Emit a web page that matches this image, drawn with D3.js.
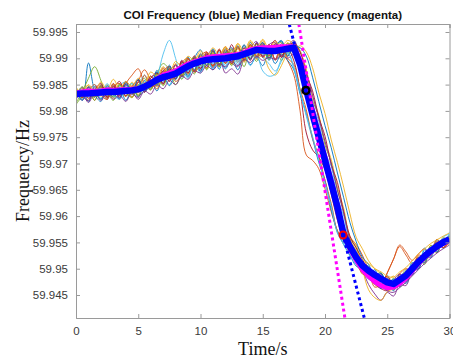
<!DOCTYPE html>
<html>
<head>
<meta charset="utf-8">
<script src="https://cdn.jsdelivr.net/npm/d3@7"></script>
<style>
  body { margin: 0; background: #fff; }
  svg { display: block; }
</style>
</head>
<body>
<div id="chart"></div>
<script>
// time grid (s), every 0.5 s
var timeS = [0,0.5,1,1.5,2,2.5,3,3.5,4,4.5,5,5.5,6,6.5,7,7.5,8,8.5,9,9.5,10,10.5,11,11.5,12,12.5,13,13.5,14,14.5,15,15.5,16,16.5,17,17.5,18,18.5,19,19.5,20,20.5,21,21.5,22,22.5,23,23.5,24,24.5,25,25.5,26,26.5,27,27.5,28,28.5,29,29.5,30];

// COI frequency (blue)
var coiFreq = [59.9832,59.9833,59.9833,59.9834,59.9835,59.9836,59.9836,59.9837,59.9838,59.9839,59.9841,59.9846,59.9852,59.9859,59.9864,59.9867,59.9871,59.9878,59.9885,59.9890,59.9894,59.9897,59.9898,59.9899,59.9900,59.9902,59.9904,59.9908,59.9912,59.9916,59.9915,59.9914,59.9914,59.9916,59.9918,59.9920,59.9888,59.9839,59.9793,59.9750,59.9706,59.9662,59.9617,59.9565,59.9542,59.9522,59.9506,59.9496,59.9488,59.9481,59.9474,59.9471,59.9479,59.9487,59.9500,59.9513,59.9524,59.9534,59.9543,59.9550,59.9556];

// median frequency (magenta)
var medianFreq = [59.9834,59.9836,59.9838,59.9837,59.9838,59.9840,59.9839,59.9840,59.9840,59.9841,59.9842,59.9846,59.9853,59.9861,59.9868,59.9872,59.9876,59.9883,59.9889,59.9893,59.9897,59.9901,59.9903,59.9904,59.9905,59.9906,59.9907,59.9911,59.9916,59.9919,59.9920,59.9920,59.9921,59.9922,59.9922,59.9922,59.9896,59.9846,59.9800,59.9755,59.9712,59.9667,59.9620,59.9566,59.9538,59.9517,59.9499,59.9486,59.9476,59.9468,59.9464,59.9465,59.9472,59.9482,59.9496,59.9510,59.9522,59.9532,59.9541,59.9548,59.9554];

// individual bus frequencies (thin lines)
var bus01 = [59.9834,59.9825,59.9891,59.9839,59.9823,59.9846,59.9830,59.9851,59.9828,59.9847,59.9826,59.9858,59.9844,59.9877,59.9859,59.9887,59.9859,59.9893,59.9867,59.9900,59.9916,59.9887,59.9914,59.9879,59.9912,59.9894,59.9924,59.9894,59.9930,59.9910,59.9929,59.9896,59.9924,59.9932,59.9910,59.9932,59.9890,59.9845,59.9788,59.9758,59.9700,59.9668,59.9610,59.9572,59.9548,59.9515,59.9512,59.9488,59.9498,59.9470,59.9482,59.9462,59.9490,59.9475,59.9512,59.9500,59.9536,59.9522,59.9555,59.9540,59.9565];
var bus02 = [59.9840,59.9826,59.9845,59.9828,59.9850,59.9830,59.9846,59.9826,59.9852,59.9868,59.9880,59.9852,59.9840,59.9872,59.9850,59.9880,59.9862,59.9896,59.9872,59.9905,59.9880,59.9910,59.9885,59.9915,59.9890,59.9918,59.9892,59.9925,59.9900,59.9928,59.9902,59.9925,59.9896,59.9915,59.9895,59.9868,59.9800,59.9716,59.9706,59.9690,59.9652,59.9608,59.9572,59.9550,59.9556,59.9546,59.9526,59.9498,59.9474,59.9470,59.9492,59.9518,59.9542,59.9526,59.9510,59.9522,59.9515,59.9532,59.9550,59.9540,59.9552];
var bus03 = [59.9826,59.9842,59.9820,59.9846,59.9828,59.9850,59.9824,59.9852,59.9840,59.9825,59.9855,59.9836,59.9866,59.9848,59.9880,59.9856,59.9890,59.9866,59.9900,59.9878,59.9910,59.9888,59.9916,59.9886,59.9920,59.9894,59.9928,59.9898,59.9932,59.9906,59.9934,59.9908,59.9928,59.9904,59.9930,59.9916,59.9924,59.9912,59.9882,59.9835,59.9795,59.9745,59.9702,59.9655,59.9605,59.9560,59.9538,59.9515,59.9500,59.9490,59.9478,59.9486,59.9470,59.9488,59.9495,59.9520,59.9512,59.9545,59.9530,59.9560,59.9548];
var bus04 = [59.9838,59.9820,59.9842,59.9826,59.9848,59.9828,59.9852,59.9822,59.9850,59.9830,59.9855,59.9835,59.9866,59.9848,59.9876,59.9884,59.9860,59.9896,59.9870,59.9904,59.9876,59.9912,59.9882,59.9904,59.9872,59.9880,59.9870,59.9902,59.9920,59.9932,59.9905,59.9926,59.9898,59.9928,59.9904,59.9922,59.9895,59.9830,59.9800,59.9742,59.9715,59.9650,59.9625,59.9562,59.9548,59.9510,59.9496,59.9470,59.9452,59.9440,59.9455,59.9448,59.9470,59.9468,59.9495,59.9500,59.9520,59.9522,59.9545,59.9540,59.9562];
var bus05 = [59.9815,59.9836,59.9862,59.9884,59.9858,59.9825,59.9846,59.9830,59.9855,59.9832,59.9848,59.9862,59.9840,59.9870,59.9890,59.9878,59.9850,59.9872,59.9892,59.9875,59.9902,59.9880,59.9910,59.9884,59.9918,59.9890,59.9922,59.9900,59.9926,59.9904,59.9925,59.9900,59.9922,59.9930,59.9906,59.9925,59.9912,59.9876,59.9820,59.9790,59.9735,59.9702,59.9648,59.9610,59.9558,59.9540,59.9508,59.9505,59.9478,59.9492,59.9462,59.9482,59.9465,59.9495,59.9488,59.9520,59.9508,59.9540,59.9530,59.9558,59.9545];
var bus06 = [59.9828,59.9845,59.9826,59.9850,59.9830,59.9852,59.9832,59.9848,59.9855,59.9836,59.9846,59.9868,59.9846,59.9864,59.9908,59.9934,59.9900,59.9862,59.9876,59.9900,59.9878,59.9905,59.9884,59.9912,59.9886,59.9916,59.9892,59.9924,59.9898,59.9930,59.9902,59.9890,59.9876,59.9894,59.9920,59.9928,59.9915,59.9865,59.9812,59.9780,59.9722,59.9694,59.9636,59.9600,59.9550,59.9535,59.9505,59.9502,59.9480,59.9470,59.9488,59.9460,59.9486,59.9476,59.9512,59.9502,59.9540,59.9520,59.9556,59.9538,59.9570];
var bus07 = [59.9840,59.9825,59.9845,59.9828,59.9846,59.9826,59.9850,59.9830,59.9856,59.9834,59.9860,59.9840,59.9866,59.9850,59.9876,59.9856,59.9888,59.9866,59.9898,59.9876,59.9906,59.9882,59.9914,59.9888,59.9910,59.9890,59.9920,59.9896,59.9924,59.9900,59.9926,59.9904,59.9928,59.9906,59.9918,59.9895,59.9838,59.9758,59.9726,59.9712,59.9688,59.9642,59.9592,59.9555,59.9535,59.9510,59.9492,59.9482,59.9470,59.9462,59.9458,59.9466,59.9472,59.9484,59.9498,59.9508,59.9518,59.9535,59.9536,59.9550,59.9555];
var bus08 = [59.9825,59.9838,59.9818,59.9840,59.9822,59.9842,59.9826,59.9845,59.9820,59.9840,59.9830,59.9838,59.9858,59.9838,59.9866,59.9848,59.9872,59.9890,59.9864,59.9894,59.9875,59.9906,59.9878,59.9902,59.9880,59.9900,59.9878,59.9905,59.9888,59.9902,59.9886,59.9912,59.9890,59.9908,59.9896,59.9878,59.9832,59.9795,59.9748,59.9702,59.9668,59.9612,59.9570,59.9546,59.9526,59.9505,59.9498,59.9480,59.9476,59.9462,59.9474,59.9458,59.9480,59.9472,59.9494,59.9500,59.9522,59.9526,59.9540,59.9545,59.9555];
var bus09 = [59.9842,59.9822,59.9838,59.9820,59.9846,59.9830,59.9852,59.9835,59.9846,59.9826,59.9856,59.9878,59.9858,59.9842,59.9870,59.9884,59.9856,59.9870,59.9900,59.9874,59.9904,59.9912,59.9884,59.9918,59.9890,59.9912,59.9922,59.9894,59.9926,59.9904,59.9930,59.9906,59.9924,59.9902,59.9928,59.9910,59.9878,59.9848,59.9785,59.9760,59.9698,59.9672,59.9618,59.9560,59.9550,59.9518,59.9512,59.9490,59.9486,59.9466,59.9492,59.9518,59.9545,59.9532,59.9516,59.9528,59.9538,59.9525,59.9552,59.9540,59.9558];
var bus10 = [59.9824,59.9840,59.9848,59.9828,59.9844,59.9822,59.9850,59.9838,59.9828,59.9855,59.9830,59.9852,59.9866,59.9846,59.9866,59.9882,59.9862,59.9888,59.9870,59.9895,59.9906,59.9880,59.9910,59.9884,59.9914,59.9888,59.9918,59.9892,59.9924,59.9898,59.9906,59.9880,59.9868,59.9886,59.9912,59.9930,59.9914,59.9878,59.9828,59.9792,59.9742,59.9708,59.9656,59.9615,59.9562,59.9545,59.9500,59.9460,59.9445,59.9440,59.9456,59.9462,59.9475,59.9478,59.9490,59.9505,59.9515,59.9528,59.9535,59.9546,59.9558];
var bus11 = [59.9840,59.9828,59.9820,59.9846,59.9838,59.9822,59.9848,59.9826,59.9850,59.9834,59.9826,59.9852,59.9862,59.9872,59.9852,59.9876,59.9886,59.9866,59.9878,59.9900,59.9882,59.9906,59.9915,59.9886,59.9916,59.9892,59.9884,59.9920,59.9898,59.9930,59.9904,59.9926,59.9930,59.9902,59.9922,59.9934,59.9896,59.9826,59.9802,59.9740,59.9712,59.9652,59.9628,59.9572,59.9535,59.9526,59.9500,59.9502,59.9478,59.9490,59.9462,59.9478,59.9490,59.9482,59.9508,59.9505,59.9530,59.9530,59.9548,59.9556,59.9550];
var bus12 = [59.9812,59.9828,59.9840,59.9820,59.9848,59.9836,59.9820,59.9850,59.9838,59.9852,59.9828,59.9850,59.9842,59.9870,59.9848,59.9874,59.9880,59.9860,59.9894,59.9870,59.9900,59.9878,59.9908,59.9884,59.9912,59.9886,59.9910,59.9884,59.9918,59.9894,59.9924,59.9898,59.9926,59.9896,59.9922,59.9918,59.9884,59.9844,59.9794,59.9746,59.9712,59.9664,59.9612,59.9558,59.9547,59.9528,59.9500,59.9495,59.9492,59.9472,59.9476,59.9460,59.9478,59.9498,59.9492,59.9522,59.9515,59.9544,59.9536,59.9552,59.9562];
var bus13 = [59.9836,59.9822,59.9842,59.9846,59.9824,59.9844,59.9830,59.9822,59.9842,59.9852,59.9836,59.9840,59.9856,59.9848,59.9868,59.9850,59.9874,59.9880,59.9862,59.9892,59.9872,59.9898,59.9880,59.9904,59.9882,59.9906,59.9888,59.9910,59.9886,59.9906,59.9876,59.9866,59.9870,59.9898,59.9910,59.9880,59.9835,59.9790,59.9746,59.9710,59.9658,59.9622,59.9568,59.9550,59.9532,59.9510,59.9502,59.9486,59.9482,59.9468,59.9460,59.9480,59.9476,59.9492,59.9498,59.9518,59.9522,59.9540,59.9538,59.9560,59.9566];
var bus14 = [59.9828,59.9844,59.9824,59.9840,59.9852,59.9826,59.9842,59.9856,59.9828,59.9846,59.9858,59.9836,59.9862,59.9872,59.9852,59.9880,59.9862,59.9894,59.9872,59.9902,59.9880,59.9908,59.9886,59.9916,59.9892,59.9926,59.9898,59.9920,59.9896,59.9928,59.9902,59.9918,59.9934,59.9902,59.9924,59.9928,59.9912,59.9870,59.9838,59.9788,59.9752,59.9698,59.9664,59.9608,59.9562,59.9540,59.9518,59.9498,59.9494,59.9478,59.9486,59.9468,59.9486,59.9480,59.9502,59.9508,59.9526,59.9528,59.9548,59.9545,59.9558];
var bus15 = [59.9838,59.9820,59.9846,59.9830,59.9818,59.9848,59.9834,59.9824,59.9852,59.9836,59.9860,59.9838,59.9848,59.9874,59.9856,59.9884,59.9862,59.9880,59.9902,59.9878,59.9908,59.9886,59.9918,59.9890,59.9910,59.9920,59.9896,59.9926,59.9900,59.9914,59.9930,59.9900,59.9922,59.9934,59.9904,59.9922,59.9920,59.9904,59.9864,59.9818,59.9772,59.9730,59.9682,59.9635,59.9588,59.9552,59.9522,59.9508,59.9488,59.9492,59.9470,59.9480,59.9466,59.9486,59.9488,59.9512,59.9512,59.9538,59.9532,59.9556,59.9552];
var bus16 = [59.9844,59.9826,59.9838,59.9850,59.9830,59.9822,59.9846,59.9852,59.9828,59.9848,59.9834,59.9868,59.9846,59.9852,59.9882,59.9860,59.9866,59.9892,59.9900,59.9874,59.9888,59.9912,59.9886,59.9898,59.9922,59.9890,59.9912,59.9898,59.9926,59.9904,59.9910,59.9926,59.9898,59.9922,59.9900,59.9888,59.9842,59.9802,59.9748,59.9714,59.9668,59.9624,59.9572,59.9555,59.9530,59.9518,59.9490,59.9488,59.9465,59.9470,59.9484,59.9468,59.9490,59.9500,59.9496,59.9526,59.9522,59.9532,59.9556,59.9540,59.9550];
var bus17 = [59.9846,59.9830,59.9850,59.9836,59.9855,59.9840,59.9860,59.9842,59.9856,59.9846,59.9862,59.9852,59.9874,59.9866,59.9884,59.9872,59.9894,59.9884,59.9904,59.9896,59.9914,59.9902,59.9920,59.9906,59.9922,59.9910,59.9928,59.9914,59.9934,59.9920,59.9936,59.9918,59.9932,59.9922,59.9934,59.9926,59.9892,59.9850,59.9800,59.9760,59.9716,59.9672,59.9628,59.9580,59.9556,59.9535,59.9518,59.9510,59.9500,59.9494,59.9486,59.9484,59.9494,59.9502,59.9515,59.9528,59.9538,59.9548,59.9555,59.9562,59.9568];
var bus18 = [59.9822,59.9832,59.9816,59.9834,59.9820,59.9838,59.9822,59.9830,59.9818,59.9836,59.9822,59.9838,59.9832,59.9850,59.9842,59.9858,59.9850,59.9866,59.9860,59.9876,59.9872,59.9886,59.9878,59.9890,59.9884,59.9894,59.9886,59.9898,59.9892,59.9904,59.9896,59.9902,59.9898,59.9905,59.9900,59.9908,59.9900,59.9872,59.9830,59.9786,59.9742,59.9700,59.9650,59.9606,59.9555,59.9528,59.9500,59.9485,59.9472,59.9466,59.9458,59.9455,59.9464,59.9474,59.9486,59.9498,59.9510,59.9520,59.9530,59.9538,59.9545];
var bus19 = [59.9830,59.9846,59.9832,59.9826,59.9844,59.9832,59.9828,59.9848,59.9834,59.9826,59.9850,59.9844,59.9856,59.9850,59.9872,59.9862,59.9876,59.9868,59.9888,59.9902,59.9886,59.9898,59.9912,59.9890,59.9906,59.9916,59.9898,59.9914,59.9906,59.9926,59.9912,59.9904,59.9920,59.9910,59.9928,59.9914,59.9886,59.9836,59.9798,59.9748,59.9702,59.9666,59.9614,59.9568,59.9540,59.9520,59.9508,59.9492,59.9490,59.9476,59.9480,59.9466,59.9484,59.9484,59.9504,59.9510,59.9528,59.9530,59.9546,59.9548,59.9560];
var bus20 = [59.9834,59.9840,59.9828,59.9838,59.9842,59.9830,59.9840,59.9834,59.9846,59.9838,59.9844,59.9856,59.9852,59.9862,59.9858,59.9870,59.9868,59.9880,59.9876,59.9888,59.9884,59.9894,59.9890,59.9898,59.9894,59.9900,59.9898,59.9906,59.9904,59.9912,59.9908,59.9910,59.9912,59.9914,59.9912,59.9884,59.9838,59.9792,59.9752,59.9706,59.9664,59.9618,59.9568,59.9546,59.9524,59.9508,59.9498,59.9490,59.9482,59.9476,59.9470,59.9474,59.9482,59.9492,59.9502,59.9516,59.9526,59.9534,59.9544,59.9552,59.9560];
var busFreqs = [bus01,bus02,bus03,bus04,bus05,bus06,bus07,bus08,bus09,bus10,bus11,bus12,bus13,bus14,bus15,bus16,bus17,bus18,bus19,bus20];
var busColors = ["#0072BD","#D95319","#EDB120","#7E2F8E","#77AC30","#4DBEEE","#A2142F"];

// tangent lines (time, freq) and marked points
var coiTangent = [[17.13, 59.9965], [23.16, 59.9406]];
var medianTangent = [[17.9, 59.9965], [21.6, 59.9406]];
var onsetPoint = [18.47, 59.9839];
var slopePoint = [21.45, 59.9564];

var xTicks = [0, 5, 10, 15, 20, 25, 30];
var yTicks = [59.945, 59.95, 59.955, 59.96, 59.965, 59.97, 59.975, 59.98, 59.985, 59.99, 59.995];

var width = 453;
var height = 355;
var margin = { top: 24, right: 3.5, bottom: 37, left: 76 };
var innerW = width - margin.left - margin.right;
var innerH = height - margin.top - margin.bottom;

var x = d3.scaleLinear().domain([0, 30]).range([0, innerW]);
var y = d3.scaleLinear().domain([59.94063, 59.99652]).range([innerH, 0]);

var svg = d3.select("#chart").append("svg")
  .attr("width", width)
  .attr("height", height);

svg.append("defs").append("clipPath").attr("id", "plot-clip")
  .append("rect").attr("width", innerW).attr("height", innerH);

var g = svg.append("g").attr("transform", `translate(${margin.left},${margin.top})`);
var plot = g.append("g").attr("clip-path", "url(#plot-clip)");

var thinLine = d3.line()
  .x((d, i) => x(timeS[i]))
  .y(d => y(d))
  .curve(d3.curveCatmullRom);

plot.selectAll("path.bus")
  .data(busFreqs)
  .join("path")
  .attr("class", "bus")
  .attr("d", thinLine)
  .attr("fill", "none")
  .attr("stroke", (d, i) => busColors[i % busColors.length])
  .attr("stroke-width", 0.9);

var thickLine = d3.line()
  .x((d, i) => x(timeS[i]))
  .y(d => y(d));

// median underneath, COI on top (median peeks out where they differ)
plot.append("path")
  .attr("d", thickLine(medianFreq))
  .attr("fill", "none")
  .attr("stroke", "#ff00ff")
  .attr("stroke-width", 5)
  .attr("stroke-linejoin", "round");

plot.append("path")
  .attr("d", thickLine(coiFreq))
  .attr("fill", "none")
  .attr("stroke", "#0000ff")
  .attr("stroke-width", 6.5)
  .attr("stroke-linejoin", "round");

var segLine = d3.line().x(d => x(d[0])).y(d => y(d[1]));

plot.append("path")
  .attr("d", segLine(coiTangent))
  .attr("fill", "none")
  .attr("stroke", "#0000ff")
  .attr("stroke-width", 3)
  .attr("stroke-dasharray", "3,3");

plot.append("path")
  .attr("d", segLine(medianTangent))
  .attr("fill", "none")
  .attr("stroke", "#ff00ff")
  .attr("stroke-width", 3)
  .attr("stroke-dasharray", "3,3");

plot.append("circle")
  .attr("cx", x(onsetPoint[0]))
  .attr("cy", y(onsetPoint[1]))
  .attr("r", 3.5)
  .attr("fill", "none")
  .attr("stroke", "#000")
  .attr("stroke-width", 2.5);

plot.append("circle")
  .attr("cx", x(slopePoint[0]))
  .attr("cy", y(slopePoint[1]))
  .attr("r", 3.5)
  .attr("fill", "none")
  .attr("stroke", "#ff0000")
  .attr("stroke-width", 2);

// axes box, MATLAB style with inward ticks on all sides
var axisColor = "#9a9a9a";
var tickLen = 4;

var xAxis = g.append("g")
  .attr("transform", `translate(0,${innerH})`)
  .call(d3.axisBottom(x).tickValues(xTicks).tickSize(-tickLen).tickPadding(9).tickFormat(d3.format("d")));
var xAxisTop = g.append("g")
  .call(d3.axisTop(x).tickValues(xTicks).tickSize(-tickLen).tickFormat(""));
var yAxis = g.append("g")
  .call(d3.axisLeft(y).tickValues(yTicks).tickSize(-tickLen).tickPadding(8).tickFormat(d => d3.format(".3~f")(d)));
var yAxisRight = g.append("g")
  .attr("transform", `translate(${innerW},0)`)
  .call(d3.axisRight(y).tickValues(yTicks).tickSize(-tickLen).tickFormat(""));

[xAxis, xAxisTop, yAxis, yAxisRight].forEach(a => {
  a.select(".domain").attr("stroke", axisColor).attr("stroke-width", 1);
  a.selectAll(".tick line").attr("stroke", axisColor);
  a.selectAll(".tick text")
    .attr("fill", "#3a3a3a")
    .style("font-family", "Liberation Sans, Arial, sans-serif")
    .style("font-size", "11.5px");
});

svg.append("text")
  .attr("x", margin.left + innerW / 2)
  .attr("y", 19)
  .attr("text-anchor", "middle")
  .style("font-family", "Liberation Sans, Arial, sans-serif")
  .style("font-weight", "bold")
  .style("font-size", "11.5px")
  .attr("fill", "#111")
  .text("COI Frequency (blue) Median Frequency (magenta)");

svg.append("text")
  .attr("transform", `translate(29,${margin.top + innerH / 2}) rotate(-90)`)
  .attr("text-anchor", "middle")
  .style("font-family", "Liberation Serif, Times New Roman, serif")
  .style("font-size", "18px")
  .attr("fill", "#111")
  .text("Frequency/Hz");

svg.append("text")
  .attr("x", margin.left + innerW / 2)
  .attr("y", 355)
  .attr("text-anchor", "middle")
  .style("font-family", "Liberation Serif, Times New Roman, serif")
  .style("font-size", "18px")
  .attr("fill", "#111")
  .text("Time/s");
</script>
</body>
</html>
